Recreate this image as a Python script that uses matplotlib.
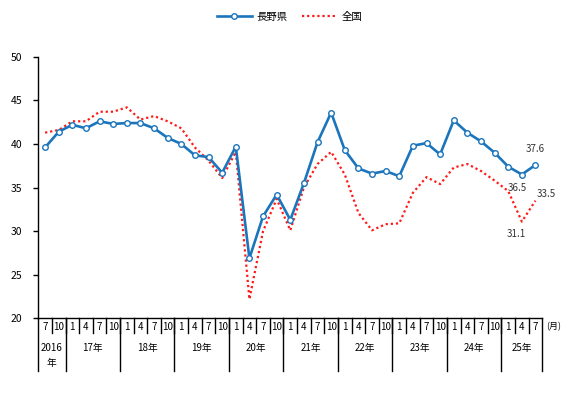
import numpy as np
import matplotlib.pyplot as plt
import matplotlib.transforms as mtransforms

plt.rcParams['font.family'] = ['Noto Sans CJK JP', 'DejaVu Sans']

# quarterly months, 2016 Jul .. 2025 Jul
months = [7, 10] + [1, 4, 7, 10] * 8 + [1, 4, 7]
year_labels = ['2016\n年', '17年', '18年', '19年', '20年', '21年', '22年', '23年', '24年', '25年']
year_counts = [2, 4, 4, 4, 4, 4, 4, 4, 4, 3]

nagano = [39.6, 41.4, 42.2, 41.8, 42.6, 42.3, 42.4, 42.4, 41.8, 40.7, 40.0, 38.7, 38.5,
          36.7, 39.7, 26.9, 31.7, 34.2, 31.3, 35.5, 40.2, 43.6, 39.3, 37.2, 36.6, 36.9,
          36.3, 39.8, 40.1, 38.8, 42.7, 41.3, 40.3, 39.0, 37.4, 36.5, 37.6]
zenkoku = [41.3, 41.6, 42.6, 42.6, 43.7, 43.7, 44.2, 42.8, 43.2, 42.6, 41.8, 39.6, 38.1,
           36.1, 39.1, 22.2, 30.0, 33.7, 30.1, 35.0, 37.7, 39.1, 36.5, 32.1, 30.1, 30.8,
           30.9, 34.4, 36.2, 35.4, 37.3, 37.7, 36.9, 35.8, 34.6, 31.1, 33.5]

n = len(months)
x = np.arange(n) + 0.5

fig = plt.figure(figsize=(5.73, 3.97), dpi=100)
ax = fig.add_axes([0.0668, 0.198, 0.8796, 0.659])

blue = '#1a75bc'
ax.plot(x, nagano, color=blue, lw=1.9, marker='o', ms=4, mfc='white', mec=blue, mew=1.0,
        label='長野県', zorder=3)
ax.plot(x, zenkoku, color='#ff1a1a', lw=1.6, ls=(0, (1, 1.3)), label='全国', zorder=2)

ax.set_xlim(0, n)
ax.set_ylim(20, 50)
ax.set_yticks(range(20, 51, 5))
ax.set_xticks([])
ax.spines['top'].set_visible(False)
ax.spines['right'].set_visible(False)
ax.spines['left'].set_linewidth(1.0)
ax.spines['bottom'].set_linewidth(1.0)
ax.tick_params(axis='y', direction='out', length=3.5, width=1.0, labelsize=7.5, pad=8)

# category table below the axis
trans = mtransforms.blended_transform_factory(ax.transData, ax.transAxes)
for i, m in enumerate(months):
    ax.text(x[i], -0.031, str(m), transform=trans, ha='center', va='center', fontsize=7)
for b in range(1, n):
    ax.plot([b, b], [0, -0.055], transform=trans, color='black', lw=1.0, clip_on=False)
bounds = np.concatenate([[0], np.cumsum(year_counts)])
for b in bounds:
    ax.plot([b, b], [0, -0.2], transform=trans, color='black', lw=1.0, clip_on=False)
for k, lab in enumerate(year_labels):
    cx = (bounds[k] + bounds[k + 1]) / 2
    ax.text(cx, -0.093, lab, transform=trans, ha='center', va='top', fontsize=7,
            linespacing=1.65)
ax.text(n + 0.3, -0.031, '(月)', transform=trans, ha='left', va='center', fontsize=6.5)

# data labels on the last points
lab_kw = dict(textcoords='offset points', fontsize=7, color='#333333', ha='center')
ax.annotate(f'{nagano[-1]:.1f}', (x[-1], nagano[-1]), xytext=(0, 8), va='bottom', **lab_kw)
ax.annotate(f'{nagano[-2]:.1f}', (x[-2], nagano[-2]), xytext=(-3, -6), va='top', **lab_kw)
ax.annotate(f'{zenkoku[-2]:.1f}', (x[-2], zenkoku[-2]), xytext=(-4, -5), va='top', **lab_kw)
ax.annotate(f'{zenkoku[-1]:.1f}', (x[-1], zenkoku[-1]), xytext=(8, 1), va='bottom', **lab_kw)

fig.legend(loc='center', bbox_to_anchor=(0.505, 0.958), ncol=2, frameon=False,
           fontsize=7.5, handlelength=3.4, columnspacing=1.4, handletextpad=0.4)

fig.savefig('out.png', dpi=100)
